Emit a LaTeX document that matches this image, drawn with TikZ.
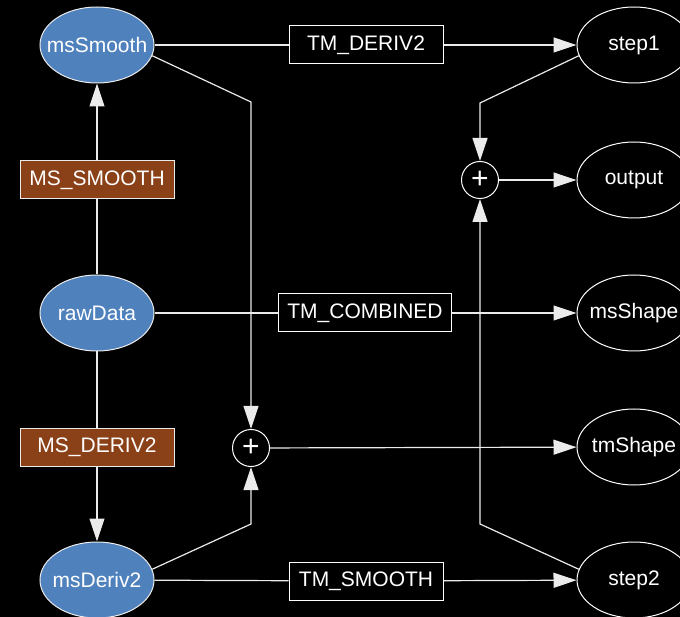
\documentclass[tikz,border=0pt]{standalone}
\usepackage{fontspec}
\setmainfont{Liberation Sans}
\usetikzlibrary{arrows.meta,shapes.geometric}
\definecolor{srcblue}{RGB}{79,129,189}
\definecolor{opbrown}{RGB}{139,65,24}
\definecolor{wire}{RGB}{235,235,235}
% fixed-size ellipse: the label is given zero width so the shape keeps its size
\newcommand{\fixlabel}[1]{\makebox[0pt][c]{#1}}
\tikzset{
  lbl/.style={text=white,font=\fontsize{21}{24}\selectfont},
  srcnode/.style={ellipse,lbl,draw=wire,line width=1pt,fill=srcblue,
    minimum width=114pt,minimum height=76pt,inner sep=0pt},
  outnode/.style={ellipse,lbl,draw=white,line width=1pt,fill=black,
    minimum width=114pt,minimum height=76pt,inner sep=0pt},
  opbox/.style={rectangle,lbl,draw=wire,line width=1pt,fill=opbrown,
    minimum width=154pt,minimum height=38pt,inner sep=0pt},
  tmbox/.style={rectangle,lbl,draw=white,line width=1pt,fill=black,
    minimum height=38pt,inner sep=0pt},
  sumnode/.style={circle,draw=white,line width=1pt,fill=black,text=white,
    minimum size=37pt,inner sep=0pt,font=\fontsize{30}{30}\selectfont},
  wireline/.style={draw=wire,line width=1.2pt},
  flow/.style={wireline,-{Triangle[length=23pt,width=15pt]}},
}
\begin{document}
\begin{tikzpicture}[x=1pt,y=-1pt]
\fill[black] (0,0) rectangle (680,617);
\useasboundingbox (0,0) rectangle (680,617);

% data sources and their operators
\node[srcnode] (msSmooth) at (97,45) {\fixlabel{msSmooth}};
\node[opbox] (msSmoothOp) at (97,180) {MS\_SMOOTH};
\node[srcnode] (rawData) at (97,313) {\fixlabel{rawData}};
\node[opbox] (msDerivOp) at (97,447) {MS\_DERIV2};
\node[srcnode] (msDeriv2) at (97,580) {\fixlabel{msDeriv2}};

% transforms in the middle column
\node[tmbox,minimum width=154pt] (tmDeriv) at (366,45) {TM\_DERIV2};
\node[tmbox,minimum width=173pt] (tmComb) at (365,313) {TM\_COMBINED};
\node[tmbox,minimum width=154pt] (tmSmooth) at (366,581) {TM\_SMOOTH};

% summing junctions
\node[sumnode] (sumTop) at (480,180) {\raisebox{1pt}{+}};
\node[sumnode] (sumBot) at (251,448) {\raisebox{1pt}{+}};

% results
\node[outnode] (step1) at (634,45) {\fixlabel{step1}};
\node[outnode] (output) at (634,180) {\fixlabel{output}};
\node[outnode] (msShape) at (634,313) {\fixlabel{msShape}};
\node[outnode] (tmShape) at (634,447) {\fixlabel{tmShape}};
\node[outnode] (step2) at (634,580) {\fixlabel{step2}};

% bend points of the routed wires
\coordinate (bA) at (251,102);
\coordinate (bB) at (251,524);
\coordinate (bC) at (480,103);
\coordinate (bD) at (480,524);

% left column
\draw[wireline] (rawData) -- (msSmoothOp);
\draw[flow] (msSmoothOp) -- (msSmooth);
\draw[wireline] (rawData) -- (msDerivOp);
\draw[flow] (msDerivOp) -- (msDeriv2);

% rows through the transforms
\draw[wireline] (msSmooth) -- (tmDeriv);
\draw[flow] (tmDeriv) -- (step1);
\draw[wireline] (rawData) -- (tmComb);
\draw[flow] (tmComb) -- (msShape);
\draw[wireline] (msDeriv2) -- (tmSmooth);
\draw[flow] (tmSmooth) -- (step2);

% lower sum
\draw[flow] (msSmooth.-11) -- (bA) -- (sumBot.north);
\draw[flow] (msDeriv2.11) -- (bB) -- (sumBot.south);
\draw[flow] (sumBot) -- (tmShape);

% upper sum
\draw[flow] (step1.191) -- (bC) -- (sumTop.north);
\draw[flow] (step2.169) -- (bD) -- (sumTop.south);
\draw[flow] (sumTop) -- (output);
\end{tikzpicture}
\end{document}
